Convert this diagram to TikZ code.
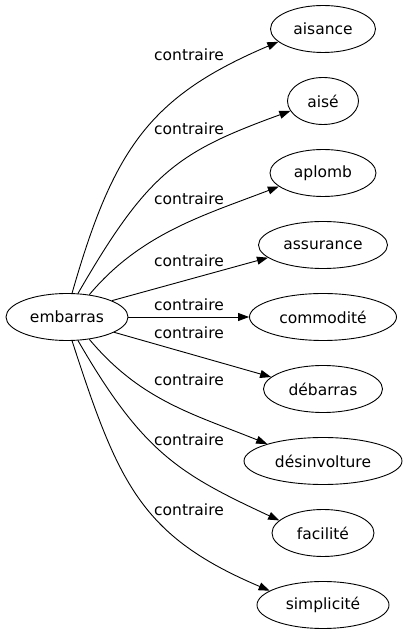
\documentclass[tikz,border=0pt]{standalone}
\usepackage{fontspec}
\setmainfont{DejaVu Sans}
\usetikzlibrary{arrows.meta, shapes.geometric}

\begin{document}
\begin{tikzpicture}[->,
					>={Triangle[length=11pt, width=8pt]},
					x=1pt, y=1pt,
					line width=0.9pt,
					every node/.style={font=\fontsize{15.5}{18}\selectfont},
					word/.style={ellipse, draw, inner sep=0pt, minimum height=47pt}]

	\useasboundingbox (0,0) rectangle (407,635);

	\node[word, minimum width=122pt] (emb) at (67,318)  {embarras};
	\node[word, minimum width=105pt] (ais) at (323,606) {aisance};
	\node[word, minimum width=71pt]  (aise) at (323,534) {aisé};
	\node[word, minimum width=106pt] (apl) at (323,462) {aplomb};
	\node[word, minimum width=129pt] (ass) at (323,390) {assurance};
	\node[word, minimum width=147pt] (com) at (323,318) {commodité};
	\node[word, minimum width=119pt] (deb) at (323,246) {débarras};
	\node[word, minimum width=158pt] (des) at (323,174) {désinvolture};
	\node[word, minimum width=102pt] (fac) at (323,102) {facilité};
	\node[word, minimum width=132pt] (sim) at (323,30)  {simplicité};

	\node (l1) at (189,580.5) {contraire};
	\node (l2) at (189,506.5) {contraire};
	\node (l3) at (189,436.5) {contraire};
	\node (l4) at (189,374.5) {contraire};
	\node (l5) at (189,330.5) {contraire};
	\node (l6) at (189,302.5) {contraire};
	\node (l7) at (189,255.5) {contraire};
	\node (l8) at (189,195.5) {contraire};
	\node (l9) at (189,125.5) {contraire};

	\draw (emb.78) to [out=74, in=203, out distance=150pt, in distance=140pt] (ais.196);
	\draw (emb.65) to [out=60, in=200, out distance=140pt, in distance=120pt] (aise.197);
	\draw (emb.45) to [out=50, in=201, out distance=80pt, in distance=80pt] (apl.197);
	\draw (emb.20) -- (ass.193);
	\draw (emb) -- (com);
	\draw (emb.-18) -- (deb.167);
	\draw (emb.-45) to [out=-50, in=158, out distance=80pt, in distance=80pt] (des.163);
	\draw (emb.-65) to [out=-60, in=155, out distance=130pt, in distance=110pt] (fac.164);
	\draw (emb.-78) to [out=-72, in=157, out distance=150pt, in distance=140pt] (sim.165);
\end{tikzpicture}
\end{document}
